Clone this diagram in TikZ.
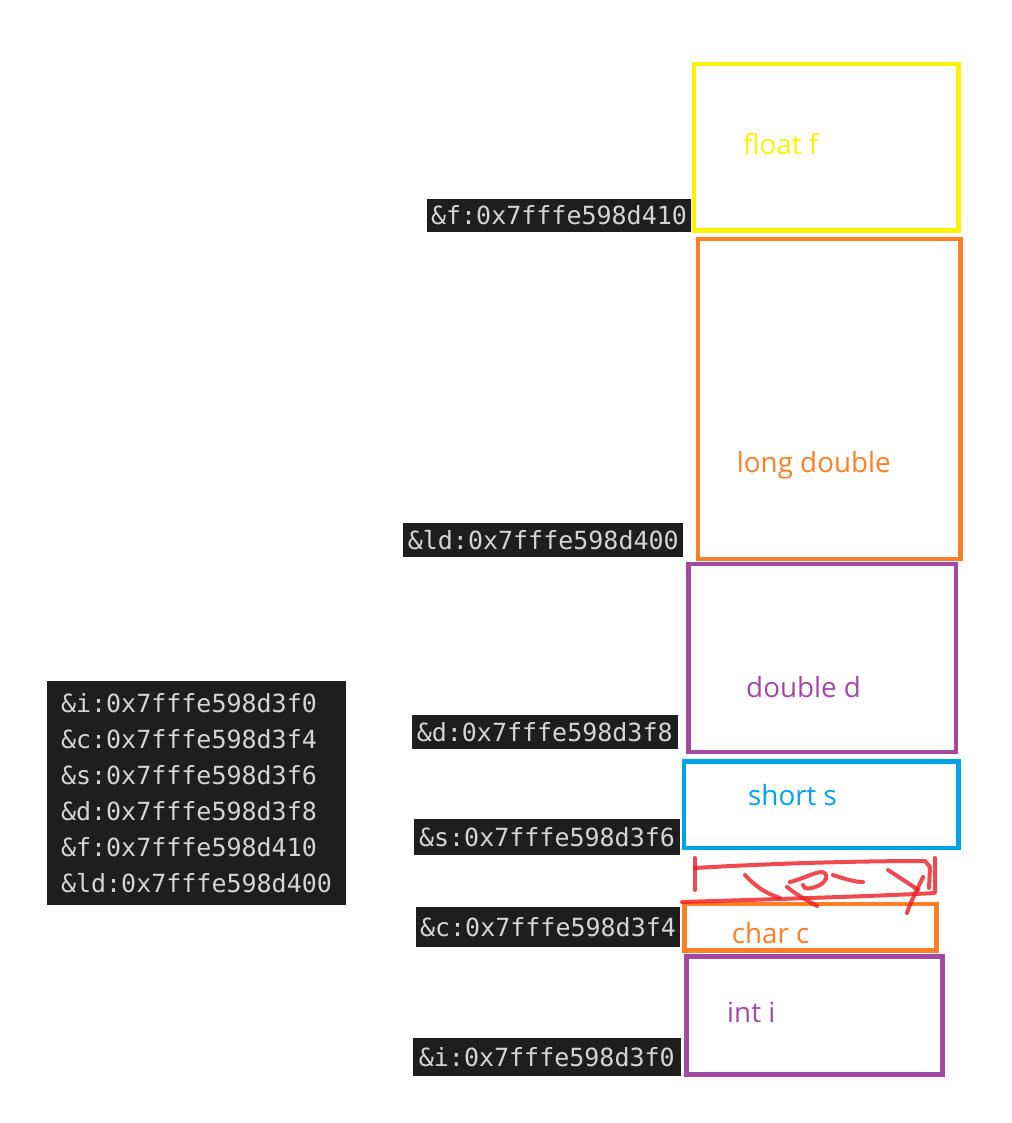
\documentclass[tikz,border=0pt]{standalone}
\usepackage{fontspec}
\newfontfamily\monofont{DejaVu Sans Mono}
\newfontfamily\lblfont{Open Sans}
\definecolor{yellowP}{HTML}{FFF200}
\definecolor{orangeP}{HTML}{FF7F27}
\definecolor{purpleP}{HTML}{A349A4}
\definecolor{cyanP}{HTML}{00A2E8}
\definecolor{redP}{HTML}{ED1C24}
\definecolor{termbg}{HTML}{1E1E1E}
\definecolor{termfg}{HTML}{D4D4D4}
\tikzset{
  membox/.style={draw, line width=4.5pt, inner sep=0pt},
  addr/.style={fill=termbg, text=termfg, inner sep=0pt, font=\monofont\fontsize{25}{36}\selectfont},
  vname/.style={anchor=base west, inner sep=0pt, font=\lblfont\fontsize{27.8}{30}\selectfont},
  scrib/.style={draw=redP, opacity=0.8, line width=4pt, line cap=round, line join=round}
}
\begin{document}
\begin{tikzpicture}[x=1pt,y=-1pt]
\useasboundingbox (0,0) rectangle (1011,1123);
% memory boxes: (left,top) rectangle (right,bottom)
\draw[membox, yellowP] (694,64) rectangle (958.5,230.5);
\draw[membox, orangeP] (698,239) rectangle (960.5,559);
\draw[membox, purpleP] (688.5,564) rectangle (956,752);
\draw[membox, cyanP] (684,761.5) rectangle (958.3,848);
\draw[membox, orangeP] (684.5,904) rectangle (936.3,950.3);
\draw[membox, purpleP] (686.5,956.5) rectangle (942.5,1074.3);
% variable names
\node[vname, text=yellowP] (nf) at (743,155) {float f};
\node[vname, text=orangeP] (nld) at (736.7,472.7) {long double};
\node[vname, text=purpleP] (nd) at (746,697.7) {double d};
\node[vname, text=cyanP] (ns) at (748,805) {short s};
\node[vname, text=orangeP] (nc) at (731.7,943.3) {char c};
\node[vname, text=purpleP] (ni) at (727,1022.3) {int i};
% address labels
\node[addr, minimum width=264pt, minimum height=33pt] (af) at (559,215.5) {\&f:0x7fffe598d410};
\node[addr, minimum width=280pt, minimum height=33.4pt] (ald) at (543.3,540) {\&ld:0x7fffe598d400};
\node[addr, minimum width=266pt, minimum height=34pt] (ad) at (544.7,732) {\&d:0x7fffe598d3f8};
\node[addr, minimum width=266pt, minimum height=36pt] (as) at (547,837) {\&s:0x7fffe598d3f6};
\node[addr, minimum width=264pt, minimum height=40pt] (ac) at (548,926.7) {\&c:0x7fffe598d3f4};
\node[addr, minimum width=268.3pt, minimum height=38.3pt] (ai) at (546.8,1056.8) {\&i:0x7fffe598d3f0};
% terminal block
\node[addr, minimum width=299pt, minimum height=224pt, align=left] (term) at (196.5,793) {\&i:0x7fffe598d3f0\\\&c:0x7fffe598d3f4\\\&s:0x7fffe598d3f6\\\&d:0x7fffe598d3f8\\\&f:0x7fffe598d410\\\&ld:0x7fffe598d400};
% red scribble
\draw[scrib] (695,858) -- (695,890);
\draw[scrib] (695,868) .. controls (760,864) and (850,861) .. (925,861) -- (930,867) -- (929,888);
\draw[scrib] (682,902) .. controls (780,899) and (880,896) .. (935,893) -- (935,858);
\draw[scrib] (745,875) .. controls (755,886) and (765,893) .. (780,898);
\draw[scrib] (790,882) .. controls (805,878) and (815,872) .. (822,872) .. controls (830,874) and (826,882) .. (820,885) .. controls (812,889) and (803,890) .. (803,885);
\draw[scrib] (787,887) .. controls (797,895) and (808,901) .. (817,906);
\draw[scrib] (833,875) .. controls (845,879) and (855,882) .. (863,882);
\draw[scrib] (888,870) .. controls (900,878) and (910,884) .. (918,890);
\draw[scrib] (923,877) .. controls (916,892) and (910,903) .. (907,913);
\end{tikzpicture}
\end{document}
